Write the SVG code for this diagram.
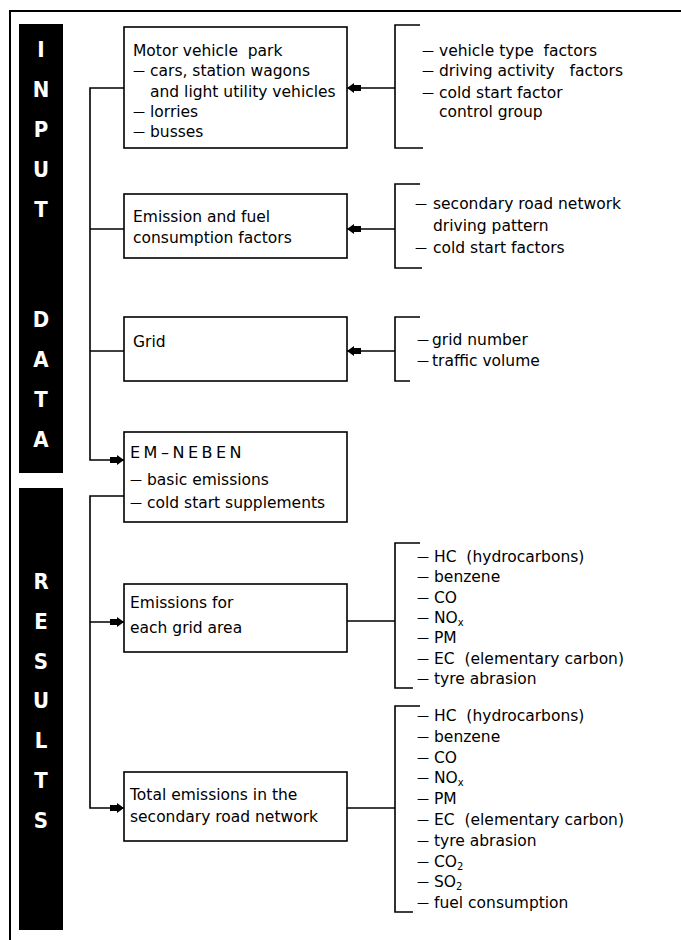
<svg xmlns="http://www.w3.org/2000/svg" width="681" height="940" viewBox="0 0 681 940">
<style>
.t{font-family:"DejaVu Sans","Liberation Sans",sans-serif;font-size:15.5px;fill:#000}
.d{font-size:12px;baseline-shift:1px}
.s{font-size:10px}
.bl{font-family:"DejaVu Sans Condensed","DejaVu Sans",sans-serif;font-weight:bold;font-size:22px;fill:#fff;text-anchor:middle}
.box{fill:#fff;stroke:#000;stroke-width:1.6}
.ln{fill:none;stroke:#000;stroke-width:1.6}
</style>
<defs>
<marker id="ah" markerUnits="userSpaceOnUse" markerWidth="16" markerHeight="12" viewBox="0 -6 16 12" refX="15" refY="0" orient="auto">
<path d="M1,-3 L8,-3 L8,-5 L15,0 L8,5 L8,3 L1,3 Z" fill="#000"/>
</marker>
</defs>
<rect width="681" height="940" fill="#fff"/>
<g id="frame">
<path d="M681,11 H10 V940" fill="none" stroke="#000" stroke-width="2"/>
</g>
<g id="bar-input">
<rect x="19" y="24" width="44" height="449" fill="#000"/>
<text class="bl" x="41" y="57">I</text>
<text class="bl" x="41" y="97">N</text>
<text class="bl" x="41" y="137">P</text>
<text class="bl" x="41" y="177">U</text>
<text class="bl" x="41" y="217">T</text>
<text class="bl" x="41" y="327">D</text>
<text class="bl" x="41" y="367">A</text>
<text class="bl" x="41" y="407">T</text>
<text class="bl" x="41" y="447">A</text>
</g>
<g id="bar-results">
<rect x="19" y="488" width="44" height="442" fill="#000"/>
<text class="bl" x="41" y="589">R</text>
<text class="bl" x="41" y="629">E</text>
<text class="bl" x="41" y="669">S</text>
<text class="bl" x="41" y="708">U</text>
<text class="bl" x="41" y="748">L</text>
<text class="bl" x="41" y="788">T</text>
<text class="bl" x="41" y="828">S</text>
</g>
<g id="connectors">
<path class="ln" d="M124,88 H90 V460 H124" marker-end="url(#ah)"/>
<path class="ln" d="M90,229 H124"/>
<path class="ln" d="M90,351 H124"/>
<path class="ln" d="M124,496 H90 V808 H124" marker-end="url(#ah)"/>
<path class="ln" d="M90,622 H124" marker-end="url(#ah)"/>
<path class="ln" d="M395,88 H347" marker-end="url(#ah)"/>
<path class="ln" d="M395,229 H347" marker-end="url(#ah)"/>
<path class="ln" d="M395,351 H347" marker-end="url(#ah)"/>
<path class="ln" d="M347,621 H395"/>
<path class="ln" d="M347,808 H395"/>
<path class="ln" d="M420,25 H395 V148 H423"/>
<path class="ln" d="M420,184 H395 V268 H422"/>
<path class="ln" d="M420,317 H395 V381 H410"/>
<path class="ln" d="M420,543 H395 V688 H413"/>
<path class="ln" d="M420,706 H395 V912 H413"/>
</g>
<g id="motor-vehicle-park">
<rect class="box" x="124" y="27" width="223" height="121"/>
<text class="t" x="133" y="56">Motor vehicle&#160; park</text>
<text class="t" y="76"><tspan class="d" x="133">—</tspan><tspan x="150">cars, station wagons</tspan></text>
<text class="t" x="150" y="97">and light utility vehicles</text>
<text class="t" y="117"><tspan class="d" x="133">—</tspan><tspan x="150">lorries</tspan></text>
<text class="t" y="137"><tspan class="d" x="133">—</tspan><tspan x="150">busses</tspan></text>
</g>
<g id="emission-factors">
<rect class="box" x="124" y="194" width="223" height="64"/>
<text class="t" x="133" y="222">Emission and fuel</text>
<text class="t" x="133" y="243">consumption factors</text>
</g>
<g id="grid">
<rect class="box" x="124" y="317" width="223" height="64"/>
<text class="t" x="133" y="347">Grid</text>
</g>
<g id="em-neben">
<rect class="box" x="124" y="432" width="223" height="90"/>
<text class="t" x="130" y="458" style="letter-spacing:3.5px;font-size:16px">EM–NEBEN</text>
<text class="t" y="485"><tspan class="d" x="130">—</tspan><tspan x="147">basic emissions</tspan></text>
<text class="t" y="508"><tspan class="d" x="130">—</tspan><tspan x="147">cold start supplements</tspan></text>
</g>
<g id="emissions-grid">
<rect class="box" x="124" y="584" width="223" height="68"/>
<text class="t" x="130" y="608">Emissions for</text>
<text class="t" x="130" y="633">each grid area</text>
</g>
<g id="total-emissions">
<rect class="box" x="124" y="772" width="223" height="69"/>
<text class="t" x="130" y="800">Total emissions in the</text>
<text class="t" x="130" y="822">secondary road network</text>
</g>
<g id="list-vehicle">
<text class="t" y="56"><tspan class="d" x="422">—</tspan><tspan x="439">vehicle type&#160; factors</tspan></text>
<text class="t" y="76"><tspan class="d" x="422">—</tspan><tspan x="439">driving activity&#160;&#160; factors</tspan></text>
<text class="t" y="98"><tspan class="d" x="422">—</tspan><tspan x="439">cold start factor</tspan></text>
<text class="t" x="439" y="117">control group</text>
</g>
<g id="list-emission">
<text class="t" y="209"><tspan class="d" x="415">—</tspan><tspan x="433">secondary road network</tspan></text>
<text class="t" x="433" y="231">driving pattern</text>
<text class="t" y="253"><tspan class="d" x="415">—</tspan><tspan x="433">cold start factors</tspan></text>
</g>
<g id="list-grid">
<text class="t" y="345"><tspan class="d" x="417">—</tspan><tspan x="432">grid number</tspan></text>
<text class="t" y="366"><tspan class="d" x="417">—</tspan><tspan x="432">traffic volume</tspan></text>
</g>
<g id="list-results-grid">
<text class="t" y="562"><tspan class="d" x="417">—</tspan><tspan x="434">HC&#160; (hydrocarbons)</tspan></text>
<text class="t" y="582"><tspan class="d" x="417">—</tspan><tspan x="434">benzene</tspan></text>
<text class="t" y="603"><tspan class="d" x="417">—</tspan><tspan x="434">CO</tspan></text>
<text class="t" y="623"><tspan class="d" x="417">—</tspan><tspan x="434">NO</tspan><tspan class="s" dy="3">x</tspan></text>
<text class="t" y="643"><tspan class="d" x="417">—</tspan><tspan x="434">PM</tspan></text>
<text class="t" y="664"><tspan class="d" x="417">—</tspan><tspan x="434">EC&#160; (elementary carbon)</tspan></text>
<text class="t" y="684"><tspan class="d" x="417">—</tspan><tspan x="434">tyre abrasion</tspan></text>
</g>
<g id="list-results-total">
<text class="t" y="721"><tspan class="d" x="417">—</tspan><tspan x="434">HC&#160; (hydrocarbons)</tspan></text>
<text class="t" y="742"><tspan class="d" x="417">—</tspan><tspan x="434">benzene</tspan></text>
<text class="t" y="763"><tspan class="d" x="417">—</tspan><tspan x="434">CO</tspan></text>
<text class="t" y="783"><tspan class="d" x="417">—</tspan><tspan x="434">NO</tspan><tspan class="s" dy="3">x</tspan></text>
<text class="t" y="804"><tspan class="d" x="417">—</tspan><tspan x="434">PM</tspan></text>
<text class="t" y="825"><tspan class="d" x="417">—</tspan><tspan x="434">EC&#160; (elementary carbon)</tspan></text>
<text class="t" y="846"><tspan class="d" x="417">—</tspan><tspan x="434">tyre abrasion</tspan></text>
<text class="t" y="867"><tspan class="d" x="417">—</tspan><tspan x="434">CO</tspan><tspan class="s" dy="3">2</tspan></text>
<text class="t" y="887"><tspan class="d" x="417">—</tspan><tspan x="434">SO</tspan><tspan class="s" dy="3">2</tspan></text>
<text class="t" y="908"><tspan class="d" x="417">—</tspan><tspan x="434">fuel consumption</tspan></text>
</g>
</svg>
